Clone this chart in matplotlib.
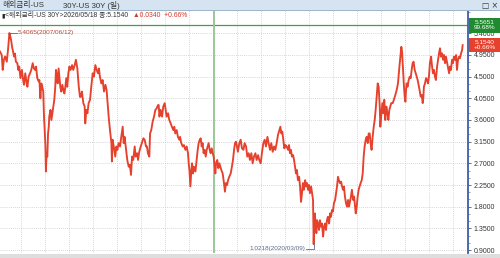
import matplotlib
matplotlib.use('Agg')
import matplotlib.pyplot as plt
import matplotlib.transforms as mtrans
from matplotlib.patches import Rectangle
from matplotlib.ticker import MultipleLocator, FixedLocator

plt.rcParams['font.family'] = ['Liberation Sans', 'Noto Sans CJK KR', 'DejaVu Sans']

# (decimal year, yield %)
seg_2007_2010 = [
    (2007.14, 5.02), (2007.21, 4.95), (2007.25, 4.64), (2007.30, 4.85), (2007.35, 4.92),
    (2007.42, 4.81), (2007.47, 5.05), (2007.53, 5.4065), (2007.57, 5.33), (2007.60, 5.26),
    (2007.64, 5.12), (2007.67, 5.05), (2007.72, 4.92), (2007.76, 4.98), (2007.80, 4.81),
    (2007.86, 4.78), (2007.90, 4.64), (2007.94, 4.71), (2007.99, 4.47), (2008.05, 4.64),
    (2008.11, 4.40), (2008.14, 4.33), (2008.19, 4.57), (2008.25, 4.36), (2008.28, 4.29),
    (2008.33, 4.50), (2008.39, 4.57), (2008.44, 4.64), (2008.50, 4.78), (2008.55, 4.67),
    (2008.60, 4.64), (2008.64, 4.71), (2008.69, 4.47), (2008.75, 4.40), (2008.78, 4.43),
    (2008.82, 4.05), (2008.86, 4.36), (2008.90, 4.29), (2008.94, 4.19), (2008.97, 3.67),
    (2009.00, 3.39), (2009.03, 3.05), (2009.05, 2.53), (2009.08, 2.91), (2009.11, 2.84),
    (2009.14, 3.32), (2009.17, 3.46), (2009.19, 3.67), (2009.24, 3.81), (2009.28, 3.60),
    (2009.32, 3.74), (2009.36, 3.88), (2009.40, 4.02), (2009.44, 4.29), (2009.47, 4.64),
    (2009.50, 4.53), (2009.54, 4.36), (2009.58, 4.67), (2009.61, 4.50), (2009.65, 4.29),
    (2009.69, 4.19), (2009.735, 4.33), (2009.78, 4.22), (2009.82, 4.15), (2009.86, 4.29),
    (2009.90, 4.47), (2009.94, 4.29), (2009.985, 4.57), (2010.03, 4.71), (2010.08, 4.64),
    (2010.14, 4.74), (2010.19, 4.64), (2010.25, 4.74), (2010.30, 4.85), (2010.36, 4.67),
    (2010.42, 4.29), (2010.47, 4.08),
]
seg_2010_2013 = [
    (2010.50, 4.08), (2010.55, 4.19), (2010.61, 3.95), (2010.665, 3.88), (2010.69, 3.53),
    (2010.735, 3.81), (2010.78, 3.74), (2010.83, 3.95), (2010.89, 4.02), (2010.94, 4.29),
    (2011.00, 4.57), (2011.05, 4.50), (2011.11, 4.74), (2011.165, 4.64), (2011.22, 4.57),
    (2011.26, 4.67), (2011.30, 4.50), (2011.36, 4.36), (2011.415, 4.43), (2011.47, 4.19),
    (2011.53, 4.33), (2011.58, 4.22), (2011.61, 4.02), (2011.665, 3.67), (2011.72, 3.39),
    (2011.78, 3.12), (2011.80, 2.74), (2011.83, 3.19), (2011.89, 3.01), (2011.94, 2.84),
    (2011.985, 3.05), (2012.03, 2.98), (2012.08, 3.12), (2012.14, 3.05), (2012.19, 3.25),
    (2012.25, 3.46), (2012.29, 3.12), (2012.33, 3.25), (2012.39, 2.98), (2012.44, 2.77),
    (2012.50, 2.63), (2012.55, 2.67), (2012.595, 2.46), (2012.64, 2.84), (2012.69, 2.77),
    (2012.75, 3.05), (2012.79, 2.84), (2012.85, 2.91), (2012.89, 2.77), (2012.94, 2.94),
    (2013.00, 3.05), (2013.05, 3.12), (2013.11, 3.22), (2013.165, 3.19), (2013.22, 3.05),
    (2013.26, 3.05), (2013.30, 2.91), (2013.36, 2.84), (2013.39, 3.32), (2013.44, 3.39),
    (2013.50, 3.57), (2013.555, 3.67), (2013.61, 3.81), (2013.665, 3.84), (2013.72, 3.91),
]
seg_2013_2016 = [
    (2013.75, 3.91), (2013.78, 3.67), (2013.83, 3.81), (2013.89, 3.67), (2013.94, 3.88),
    (2014.00, 3.95), (2014.03, 3.84), (2014.08, 3.67), (2014.14, 3.74), (2014.19, 3.60),
    (2014.25, 3.53), (2014.30, 3.46), (2014.36, 3.39), (2014.40, 3.46), (2014.44, 3.32),
    (2014.50, 3.39), (2014.55, 3.25), (2014.61, 3.19), (2014.64, 3.25), (2014.69, 3.12),
    (2014.75, 3.05), (2014.80, 3.08), (2014.86, 2.98), (2014.915, 3.05), (2014.97, 2.91),
    (2015.00, 2.70), (2015.03, 2.56), (2015.07, 2.22), (2015.11, 2.56), (2015.14, 2.70),
    (2015.18, 2.49), (2015.22, 2.63), (2015.28, 2.53), (2015.33, 2.77), (2015.375, 2.98),
    (2015.415, 3.12), (2015.46, 3.19), (2015.50, 3.22), (2015.54, 3.05), (2015.58, 3.12),
    (2015.62, 2.91), (2015.665, 2.98), (2015.71, 2.84), (2015.75, 2.98), (2015.79, 3.05),
    (2015.83, 3.12), (2015.875, 2.98), (2015.915, 2.91), (2015.96, 3.01), (2016.00, 2.91),
    (2016.04, 2.84), (2016.08, 2.63), (2016.11, 2.49), (2016.14, 2.70), (2016.19, 2.77),
    (2016.235, 2.60), (2016.28, 2.70), (2016.32, 2.63), (2016.36, 2.56), (2016.415, 2.49),
    (2016.47, 2.29), (2016.51, 2.11), (2016.55, 2.29), (2016.60, 2.25), (2016.64, 2.35),
    (2016.69, 2.42), (2016.75, 2.49), (2016.80, 2.63), (2016.845, 2.77), (2016.89, 2.98),
    (2016.93, 3.12), (2016.97, 3.15),
]
seg_2017_2020 = [
    (2017.00, 3.08), (2017.05, 2.94), (2017.11, 3.12), (2017.165, 3.19), (2017.22, 3.01),
    (2017.28, 2.98), (2017.33, 3.12), (2017.39, 3.05), (2017.44, 2.84), (2017.50, 2.91),
    (2017.55, 2.77), (2017.61, 2.91), (2017.665, 2.70), (2017.72, 2.84), (2017.78, 2.91),
    (2017.83, 2.77), (2017.89, 2.87), (2017.94, 2.77), (2018.00, 2.70), (2018.05, 2.91),
    (2018.11, 3.12), (2018.165, 3.19), (2018.22, 3.05), (2018.28, 3.25), (2018.33, 3.12),
    (2018.39, 2.98), (2018.44, 3.12), (2018.50, 2.94), (2018.555, 3.05), (2018.61, 2.98),
    (2018.665, 3.12), (2018.72, 3.29), (2018.78, 3.39), (2018.82, 3.46), (2018.86, 3.32),
    (2018.90, 3.36), (2018.94, 3.19), (2018.985, 3.01), (2019.03, 3.08), (2019.08, 3.05),
    (2019.14, 2.98), (2019.18, 3.08), (2019.22, 2.91), (2019.26, 2.98), (2019.30, 2.84),
    (2019.35, 2.87), (2019.39, 2.77), (2019.43, 2.63), (2019.47, 2.49), (2019.51, 2.56),
    (2019.55, 2.35), (2019.60, 2.42), (2019.64, 2.22), (2019.68, 1.90), (2019.72, 2.08),
    (2019.76, 2.29), (2019.80, 2.15), (2019.85, 2.35), (2019.89, 2.22), (2019.93, 2.29),
    (2019.97, 2.15), (2020.01, 2.25), (2020.05, 2.08), (2020.10, 2.22), (2020.14, 2.08),
    (2020.18, 1.94),
]
seg_2020_2023 = [
    (2020.207, 1.0218), (2020.235, 1.52), (2020.26, 1.66), (2020.29, 1.385), (2020.32, 1.25),
    (2020.35, 1.52), (2020.39, 1.45), (2020.43, 1.315), (2020.47, 1.52), (2020.51, 1.385),
    (2020.555, 1.45), (2020.60, 1.18), (2020.64, 1.385), (2020.68, 1.45), (2020.72, 1.315),
    (2020.76, 1.52), (2020.80, 1.59), (2020.85, 1.45), (2020.89, 1.66), (2020.93, 1.59),
    (2020.97, 1.73), (2021.01, 1.70), (2021.05, 1.87), (2021.10, 1.94), (2021.14, 2.08),
    (2021.18, 2.22), (2021.22, 2.42), (2021.26, 2.35), (2021.30, 2.29), (2021.35, 2.32),
    (2021.39, 2.22), (2021.43, 2.15), (2021.47, 2.22), (2021.51, 2.01), (2021.555, 1.87),
    (2021.60, 1.80), (2021.64, 1.94), (2021.68, 1.80), (2021.72, 1.90), (2021.76, 2.01),
    (2021.80, 2.15), (2021.85, 1.94), (2021.89, 2.01), (2021.93, 1.80), (2021.96, 1.66),
    (2022.00, 1.80), (2022.04, 2.01), (2022.08, 2.15), (2022.12, 2.22), (2022.165, 2.29),
    (2022.21, 2.35), (2022.25, 2.49), (2022.29, 2.84), (2022.33, 3.05), (2022.375, 3.19),
    (2022.415, 3.25), (2022.46, 3.12), (2022.50, 3.32), (2022.54, 3.32), (2022.58, 3.12),
    (2022.62, 2.98), (2022.665, 3.25), (2022.71, 3.46), (2022.75, 3.60), (2022.79, 3.81),
    (2022.83, 4.08), (2022.875, 4.36), (2022.915, 4.29), (2022.96, 3.88), (2022.985, 3.46),
    (2023.03, 3.74), (2023.07, 3.95), (2023.11, 3.74), (2023.15, 4.02), (2023.19, 3.60),
    (2023.235, 3.88), (2023.28, 3.74), (2023.32, 3.60), (2023.36, 3.81), (2023.40, 3.88),
    (2023.44, 3.95),
]
seg_2023_2026 = [
    (2023.50, 3.95), (2023.55, 4.02), (2023.61, 4.12), (2023.665, 4.22), (2023.72, 4.36),
    (2023.78, 4.71), (2023.82, 4.915), (2023.86, 5.12), (2023.89, 5.02), (2023.915, 4.78),
    (2023.94, 4.57), (2023.97, 4.29), (2024.00, 4.085), (2024.03, 3.98), (2024.055, 4.22),
    (2024.08, 4.36), (2024.12, 4.29), (2024.165, 4.43), (2024.21, 4.50), (2024.25, 4.47),
    (2024.29, 4.64), (2024.33, 4.78), (2024.37, 4.81), (2024.415, 4.64), (2024.46, 4.57),
    (2024.50, 4.50), (2024.54, 4.43), (2024.58, 4.33), (2024.62, 4.22), (2024.665, 4.085),
    (2024.71, 4.12), (2024.75, 3.95), (2024.775, 4.05), (2024.80, 4.29), (2024.845, 4.36),
    (2024.89, 4.47), (2024.93, 4.43), (2024.97, 4.36), (2025.01, 4.50), (2025.05, 4.78),
    (2025.10, 4.915), (2025.14, 4.71), (2025.18, 4.57), (2025.22, 4.64), (2025.26, 4.50),
    (2025.30, 4.43), (2025.35, 4.71), (2025.39, 4.85), (2025.43, 4.985), (2025.47, 5.09),
    (2025.51, 4.915), (2025.555, 4.985), (2025.60, 4.85), (2025.64, 4.95), (2025.68, 4.78),
    (2025.72, 4.915), (2025.76, 4.81), (2025.80, 4.71), (2025.85, 4.57), (2025.89, 4.71),
    (2025.93, 4.64), (2025.97, 4.85), (2026.01, 4.78), (2026.05, 4.915), (2026.10, 4.85),
    (2026.14, 4.95), (2026.18, 4.64), (2026.22, 4.85), (2026.26, 4.915), (2026.30, 4.88),
    (2026.35, 4.985), (2026.39, 5.05), (2026.415, 5.154),
]

yticks = [0.9, 1.35, 1.8, 2.25, 2.7, 3.15, 3.6, 4.05, 4.5, 4.95, 5.4]
grid_years = list(range(2008, 2027))
hi_pt = (2007.53, 5.4065, '5.4065(2007/06/12)')
lo_pt = (2020.207, 1.0218, '1.0218(2020/03/09)')
ref_level, ref_pct = 5.5651, '99.68%'
ref_year = 2016.06
last_val, last_chg, last_pct = 5.1540, 0.0340, '+0.66%'
last_date = '2026/05/18'

series = seg_2007_2010 + seg_2010_2013 + seg_2013_2016 + seg_2017_2020 + seg_2020_2023 + seg_2023_2026
t = [p[0] for p in series]
v = [p[1] for p in series]

W, H = 500, 258
fig = plt.figure(figsize=(W / 100, H / 100), dpi=100)
fig.patch.set_facecolor('white')
ax = fig.add_axes([0, 5 / H, 468 / W, 243 / H])

ax.plot(t, v, color='#e5412d', lw=1.35, zorder=3)
ax.set_xlim(2007.1375, 2026.6375)
ax.set_ylim(0.838, 5.884)

# grid
ax.xaxis.set_major_locator(FixedLocator(grid_years))
ax.set_yticks(yticks)
ax.grid(True, color='#c9c9c9', ls=(0, (1, 1.5)), lw=0.6)
ax.tick_params(axis='x', length=0, labelbottom=False)

# right axis
ax.yaxis.tick_right()
ax.set_yticklabels(['%.4f' % y for y in yticks])
ax.yaxis.set_minor_locator(MultipleLocator(0.15))
ax.tick_params(axis='y', which='major', length=2.5, width=0.6, color='#555555',
               labelsize=5.0, labelcolor='#333333', pad=1.5)
ax.tick_params(axis='y', which='minor', length=1.5, width=0.5, color='#777777')
for s in ['left', 'top', 'bottom']:
    ax.spines[s].set_visible(False)
ax.spines['right'].set_color('#3a5fa8')
ax.spines['right'].set_linewidth(1.3)

# green reference lines
ax.axhline(ref_level, color='#4b9a4b', lw=0.9, zorder=2)
ax.axvline(ref_year, color='#93c493', lw=1.3, zorder=2)

# high / low annotations
ax.plot([hi_pt[0], hi_pt[0], hi_pt[0] + 0.33], [hi_pt[1] - 0.08, hi_pt[1], hi_pt[1]],
        color='#b5473b', lw=0.6, zorder=4)
ax.text(hi_pt[0] + 0.34, hi_pt[1], hi_pt[2], fontsize=4.6, color='#b5473b', va='center', ha='left')
ax.plot([lo_pt[0] - 0.33, lo_pt[0], lo_pt[0]], [lo_pt[1] - 0.1, lo_pt[1] - 0.1, lo_pt[1]],
        color='#5b6b8c', lw=0.6, zorder=4)
ax.text(lo_pt[0] - 0.34, lo_pt[1] - 0.1, lo_pt[2], fontsize=4.6, color='#5b6b8c', va='center', ha='right')

# value boxes on the right scale
bt = mtrans.blended_transform_factory(ax.transAxes, ax.transData)
bw = 32 / 468
for val, txt, fc in [(ref_level, '%.4f\n%s' % (ref_level, ref_pct), '#1f8a2f'),
                     (last_val, '%.4f\n%s' % (last_val, last_pct), '#e5412d')]:
    ax.add_patch(Rectangle((1.002, val - 0.15), bw, 0.30, transform=bt, fc=fc, ec='none',
                           clip_on=False, zorder=6))
    ax.text(1.002 + bw / 2, val, txt, transform=bt, ha='center', va='center', fontsize=4.6,
            color='white', linespacing=0.95, clip_on=False, zorder=7)

# title bar and header line
fig.patches.append(Rectangle((0, 1 - 10 / H), 1, 10 / H, transform=fig.transFigure,
                             fc='#d6e4f1', ec='none', zorder=0))
fig.patches.append(Rectangle((0, 1 - 10.5 / H), 1, 0.6 / H, transform=fig.transFigure,
                             fc='#9fb6cc', ec='none', zorder=0))
fig.patches.append(Rectangle((0, 0), 1, 4 / H, transform=fig.transFigure,
                             fc='#dedede', ec='none', zorder=0))
fig.text(3 / W, 1 - 5.5 / H, '해외금리-US', fontsize=5.6, color='#333333', va='center')
fig.text(63 / W, 1 - 5.5 / H, '30Y-US 30Y (일)', fontsize=5.6, color='#333333', va='center')
fig.text(482 / W, 1 - 5.5 / H, '□ ×', fontsize=5.5, color='#333333', va='center', family='DejaVu Sans')
fig.text(1 / W, 1 - 15.5 / H, '▮', fontsize=4.5, color='#222222', va='center', family='DejaVu Sans')
fig.text(5 / W, 1 - 15.5 / H, '<해외금리-US 30Y>%s 종:%.4f' % (last_date, last_val),
         fontsize=4.9, color='#333333', va='center')
fig.text(133 / W, 1 - 15.5 / H, '▲%.4f  %s' % (last_chg, last_pct),
         fontsize=4.9, color='#d03a2a', va='center', family=['Liberation Sans', 'DejaVu Sans'])

fig.savefig('out.png', dpi=100)
